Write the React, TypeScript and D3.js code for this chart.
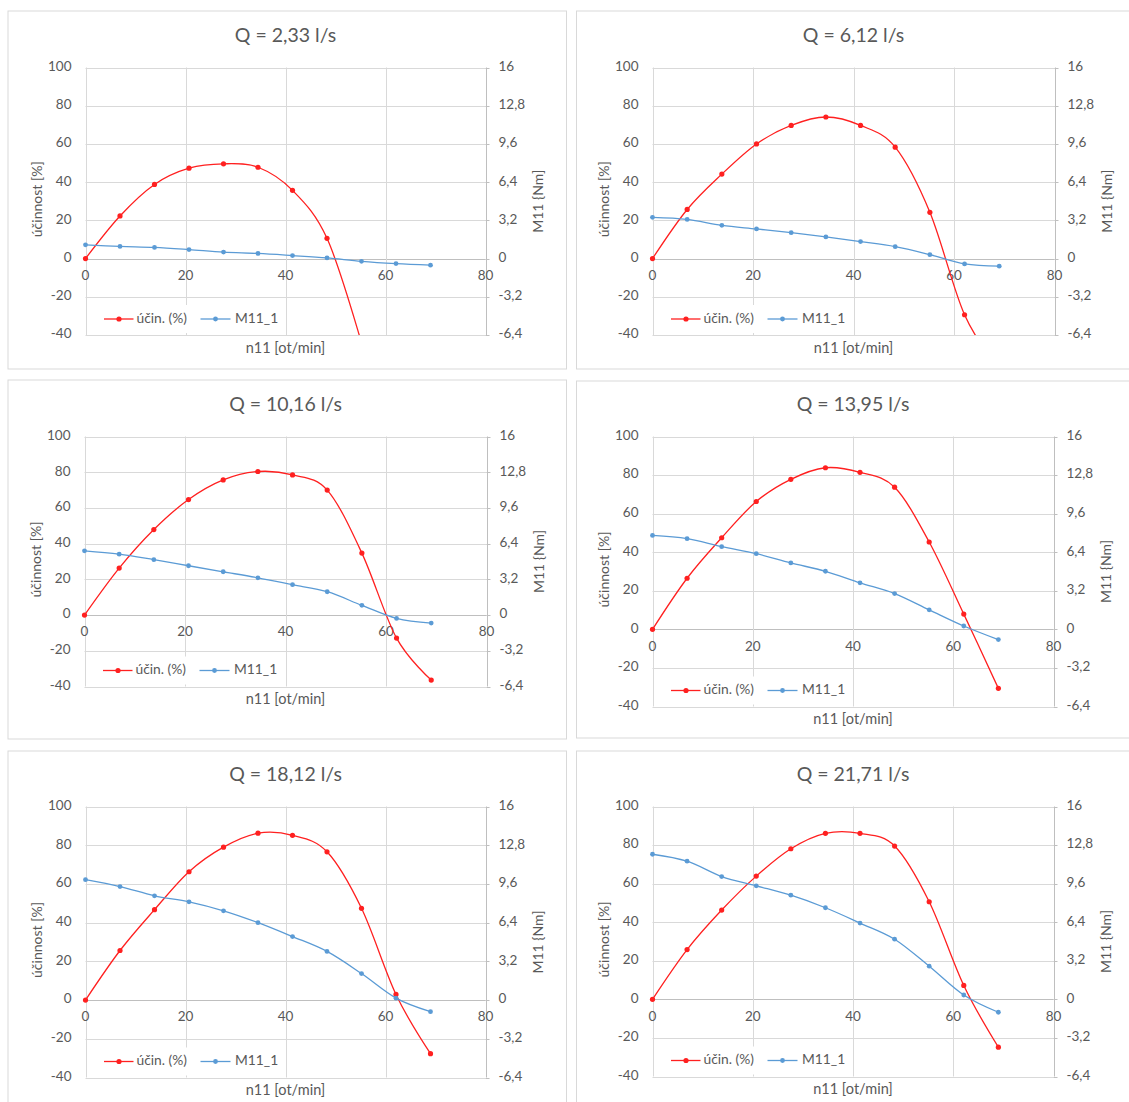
import React from "react";
import * as d3 from "d3";

// ---- data ----
const n11 = [0, 6.9, 13.8, 20.7, 27.6, 34.5, 41.4, 48.3, 55.2, 62.1, 69.0];

const flowTitles = [
  "Q = 2,33 l/s",
  "Q = 6,12 l/s",
  "Q = 10,16 l/s",
  "Q = 13,95 l/s",
  "Q = 18,12 l/s",
  "Q = 21,71 l/s",
];

const ucinQ233 = [0, 22.3, 38.8, 47.3, 49.6, 47.8, 35.7, 10.6, -44, -110, -180];
const m11Q233 = [1.15, 1.02, 0.93, 0.75, 0.54, 0.43, 0.25, 0.05, -0.23, -0.42, -0.55];

const ucinQ612 = [0, 25.7, 44.2, 60.0, 69.7, 74.1, 69.7, 58.3, 24.2, -29.4, -58];
const m11Q612 = [3.45, 3.28, 2.78, 2.48, 2.17, 1.81, 1.42, 1.0, 0.33, -0.45, -0.64];

const ucinQ1016 = [0, 26.3, 47.9, 64.7, 75.7, 80.4, 78.5, 70.0, 34.7, -12.9, -36.4];
const m11Q1016 = [5.76, 5.46, 4.96, 4.42, 3.88, 3.34, 2.72, 2.09, 0.87, -0.3, -0.72];

const ucinQ1395 = [0, 26.5, 47.5, 66.3, 77.8, 83.8, 81.4, 73.7, 45.3, 7.9, -30.6];
const m11Q1395 = [7.79, 7.52, 6.86, 6.28, 5.51, 4.82, 3.86, 2.97, 1.62, 0.28, -0.85];

const ucinQ1812 = [0, 25.6, 46.7, 66.3, 79.0, 86.2, 85.1, 76.6, 47.4, 2.9, -27.7];
const m11Q1812 = [9.95, 9.38, 8.62, 8.12, 7.38, 6.4, 5.25, 4.02, 2.19, 0.16, -0.96];

const ucinQ2171 = [0, 25.8, 46.3, 63.9, 78.1, 86.1, 86.1, 79.5, 50.6, 7.2, -24.8];
const m11Q2171 = [12.04, 11.46, 10.19, 9.42, 8.64, 7.6, 6.33, 4.99, 2.75, 0.36, -1.07];

const leftTicks = [-40, -20, 0, 20, 40, 60, 80, 100];
const rightTicks = [-6.4, -3.2, 0, 3.2, 6.4, 9.6, 12.8, 16];
const xTicks = [0, 20, 40, 60, 80];

const seriesNames = ["účin. (%)", "M11_1"];
const leftAxisTitle = "účinnost [%]";
const rightAxisTitle = "M11 {Nm]";
const xAxisTitle = "n11 [ot/min]";

// ---- layout / styles (not data) ----
const layouts = [
  { fx: 8, fy: 11, fw: 558.5, fh: 358, x0: 85.5, x1: 485.5, yT: 67.5, yB: 335 },
  { fx: 576.5, fy: 11, fw: 600, fh: 358, x0: 652.5, x1: 1054.5, yT: 67.5, yB: 335 },
  { fx: 8, fy: 380, fw: 558.5, fh: 359, x0: 84.5, x1: 486.5, yT: 436.5, yB: 686.5 },
  { fx: 576.5, fy: 381, fw: 600, fh: 357, x0: 652.5, x1: 1053.5, yT: 436.5, yB: 706.5 },
  { fx: 8, fy: 751, fw: 558.5, fh: 400, x0: 85.5, x1: 485.5, yT: 806.5, yB: 1077.5 },
  { fx: 576.5, fy: 751, fw: 600, fh: 400, x0: 652.5, x1: 1053.5, yT: 806.5, yB: 1076.5 },
];

const panelsData = [
  { title: flowTitles[0], ucin: ucinQ233, m11: m11Q233 },
  { title: flowTitles[1], ucin: ucinQ612, m11: m11Q612 },
  { title: flowTitles[2], ucin: ucinQ1016, m11: m11Q1016 },
  { title: flowTitles[3], ucin: ucinQ1395, m11: m11Q1395 },
  { title: flowTitles[4], ucin: ucinQ1812, m11: m11Q1812 },
  { title: flowTitles[5], ucin: ucinQ2171, m11: m11Q2171 },
];

const FONT = "Lato, 'Open Sans', sans-serif";
const TEXT = "#595959";
const GRID = "#d9d9d9";
const AXIS = "#bfbfbf";
const RED = "#ff2020";
const BLUE = "#5b9bd5";
const TICK_FS = 13.5;
const TITLE_FS = 14;
const LEG_FS = 13.8;

const fmt = (v: number) => String(Math.round(v * 10) / 10).replace(".", ",");

function Panel({ idx }: { idx: number }) {
  const L = layouts[idx];
  const P = panelsData[idx];
  const x = d3.scaleLinear().domain([0, 80]).range([L.x0, L.x1]);
  const yL = d3.scaleLinear().domain([-40, 100]).range([L.yB, L.yT]);
  const yR = d3.scaleLinear().domain([-6.4, 16]).range([L.yB, L.yT]);
  const curve = d3.curveCardinal.tension(0);
  const redLine = d3
    .line<number>()
    .x((_, i) => x(n11[i]))
    .y((d) => yL(d))
    .curve(curve)(P.ucin) as string;
  const blueLine = d3
    .line<number>()
    .x((_, i) => x(n11[i]))
    .y((d) => yR(d))
    .curve(curve)(P.m11) as string;
  const clipId = `clip${idx}`;
  const y0 = yL(0);
  const cy = (L.yT + L.yB) / 2;
  const legY = L.yB - 16;
  const lx = L.x0;

  return (
    <g>
      <rect x={L.fx} y={L.fy} width={L.fw} height={L.fh} fill="#fff" stroke={GRID} strokeWidth={1} />
      <defs>
        <clipPath id={clipId}>
          <rect x={L.x0 - 4} y={L.yT} width={L.x1 - L.x0 + 8} height={L.yB - L.yT} />
        </clipPath>
      </defs>
      <text x={(L.x0 + L.x1) / 2} y={L.yT - 30} textAnchor="middle" dominantBaseline="middle" fontFamily={FONT} fontSize={19.5} fill={TEXT}>
        {P.title}
      </text>
      {leftTicks.map((t) => (
        <line key={"h" + t} x1={L.x0} x2={L.x1} y1={Math.round(yL(t)) + 0.5} y2={Math.round(yL(t)) + 0.5} stroke={t === 0 ? AXIS : GRID} strokeWidth={1} />
      ))}
      {xTicks.map((t) => (
        <line key={"v" + t} x1={Math.round(x(t)) + 0.5} x2={Math.round(x(t)) + 0.5} y1={L.yT} y2={L.yB} stroke={t === 80 ? AXIS : GRID} strokeWidth={1} />
      ))}
      {rightTicks.map((t) => (
        <line key={"rt" + t} x1={L.x1} x2={L.x1 + 4} y1={Math.round(yR(t)) + 0.5} y2={Math.round(yR(t)) + 0.5} stroke={AXIS} strokeWidth={1} />
      ))}
      {leftTicks.map((t) => (
        <text key={"lt" + t} x={L.x0 - 14} y={yL(t)} textAnchor="end" dominantBaseline="middle" fontFamily={FONT} fontSize={TICK_FS} fill={TEXT}>
          {fmt(t)}
        </text>
      ))}
      {rightTicks.map((t) => (
        <text key={"rl" + t} x={L.x1 + 13} y={yR(t)} textAnchor="start" dominantBaseline="middle" fontFamily={FONT} fontSize={TICK_FS} fill={TEXT}>
          {fmt(t)}
        </text>
      ))}
      {xTicks.map((t) => (
        <text key={"xl" + t} x={x(t)} y={y0 + 18} textAnchor="middle" dominantBaseline="middle" fontFamily={FONT} fontSize={TICK_FS} fill={TEXT}>
          {fmt(t)}
        </text>
      ))}
      <text transform={`translate(${L.x0 - 47},${cy - 2}) rotate(-90)`} textAnchor="middle" dominantBaseline="middle" fontFamily={FONT} fontSize={TITLE_FS} fill={TEXT}>
        {leftAxisTitle}
      </text>
      <text transform={`translate(${L.x1 + 54},${cy}) rotate(-90)`} textAnchor="middle" dominantBaseline="middle" fontFamily={FONT} fontSize={TITLE_FS} fill={TEXT}>
        {rightAxisTitle}
      </text>
      <text x={(L.x0 + L.x1) / 2} y={L.yB + 14} textAnchor="middle" dominantBaseline="middle" fontFamily={FONT} fontSize={TITLE_FS + 0.5} fill={TEXT}>
        {xAxisTitle}
      </text>
      <rect x={lx + 14} y={legY - 14} width={182} height={28} fill="#fff" />
      <g clipPath={`url(#${clipId})`}>
        <path d={redLine} fill="none" stroke={RED} strokeWidth={1.3} />
        {P.ucin.map((v, i) => (
          <circle key={"r" + i} cx={x(n11[i])} cy={yL(v)} r={2.6} fill={RED} />
        ))}
        <path d={blueLine} fill="none" stroke={BLUE} strokeWidth={1.3} />
        {P.m11.map((v, i) => (
          <circle key={"b" + i} cx={x(n11[i])} cy={yR(v)} r={2.4} fill={BLUE} />
        ))}
      </g>
      <g>
        <line x1={lx + 18.5} x2={lx + 48} y1={legY} y2={legY} stroke={RED} strokeWidth={1.3} />
        <circle cx={lx + 33.5} cy={legY} r={2.6} fill={RED} />
        <text x={lx + 51} y={legY} dominantBaseline="middle" fontFamily={FONT} fontSize={LEG_FS} fill={TEXT}>
          {seriesNames[0]}
        </text>
        <line x1={lx + 115} x2={lx + 145} y1={legY} y2={legY} stroke={BLUE} strokeWidth={1.3} />
        <circle cx={lx + 130} cy={legY} r={2.4} fill={BLUE} />
        <text x={lx + 149.5} y={legY} dominantBaseline="middle" fontFamily={FONT} fontSize={LEG_FS} fill={TEXT}>
          {seriesNames[1]}
        </text>
      </g>
    </g>
  );
}

export default function App() {
  return (
    <div style={{ position: "absolute", left: 0, top: 0, width: 1129, height: 1102, overflow: "hidden", background: "#fff" }}>
      <svg width={1129} height={1102} style={{ display: "block" }}>
        <rect x={0} y={0} width={1129} height={1102} fill="#fff" />
        {layouts.map((_, i) => (
          <Panel key={i} idx={i} />
        ))}
      </svg>
    </div>
  );
}
